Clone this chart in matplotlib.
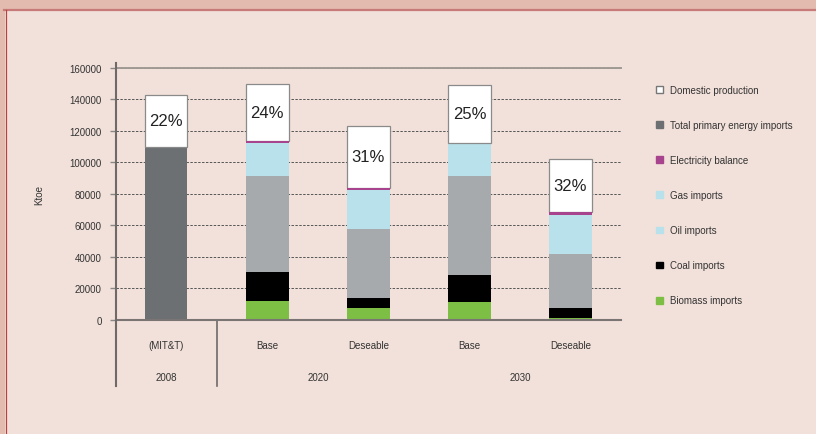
import matplotlib
matplotlib.use('Agg')
import matplotlib.pyplot as plt
from matplotlib.patches import Patch, Rectangle
from matplotlib.lines import Line2D
import matplotlib.transforms as mtransforms

plt.rcParams['font.family'] = ['Liberation Sans Narrow', 'Liberation Sans', 'DejaVu Sans']

# Datos (Ktoe)
categories = ['(MIT&T)', 'Base', 'Deseable', 'Base', 'Deseable']
years = ['2008', '2020', '2030']
year_groups = [[0], [1, 2], [3, 4]]
total_imports = [110000, 0, 0, 0, 0]
biomass = [0, 12000, 7400, 11300, 1100]
coal = [0, 18500, 6400, 17100, 6300]
oil = [0, 61000, 43900, 63000, 34400]
gas = [0, 20600, 24600, 20800, 25100]
electricity = [0, 1300, 1500, 0, 1600]
domestic = [33000, 36300, 39300, 37100, 33800]
shares = ['22%', '24%', '31%', '25%', '32%']

bg = '#F2E1DA'
c_total = '#6D7072'
c_elec = '#A8448E'
c_gas = '#B9E1EB'
c_oil = '#A7AAAC'
c_coal = '#000000'
c_bio = '#7DBF45'

fig = plt.figure(figsize=(8.16, 4.35), dpi=100, facecolor=bg)

# marco decorativo
fig.add_artist(Rectangle((0, 1 - 10/435), 1, 10/435, transform=fig.transFigure,
                         facecolor='#E3BBAF', edgecolor='none'))
fig.add_artist(Rectangle((0, 0), 5/816, 1, transform=fig.transFigure,
                         facecolor='#E3BBAF', edgecolor='none'))
fig.add_artist(Line2D([3.5/816, 1], [1 - 11/435, 1 - 11/435], transform=fig.transFigure,
                      color='#C87A78', lw=1.6))
fig.add_artist(Line2D([5.5/816, 5.5/816], [0, 1 - 11/435], transform=fig.transFigure,
                      color='#B8423F', lw=0.9))

ax = fig.add_axes([115.7/816, 1 - 321/435, (621 - 115.7)/816, (321 - 68.7)/435])
ax.set_facecolor('none')

x = list(range(len(categories)))
w = 0.42

bottom = [0] * len(x)
layers = [(total_imports, c_total), (biomass, c_bio), (coal, c_coal), (oil, c_oil),
          (gas, c_gas)]
for vals, col in layers:
    ax.bar(x, vals, w, bottom=bottom, color=col, edgecolor='none', zorder=3)
    bottom = [b + v for b, v in zip(bottom, vals)]

# balance eléctrico encima del borde de la caja
ax.bar(x, electricity, w, bottom=bottom, color=c_elec, edgecolor='none', zorder=3.5)
bottom = [b + v for b, v in zip(bottom, electricity)]

ax.bar(x, domestic, w, bottom=bottom, color='white', edgecolor='#8A8A8A', linewidth=0.9, zorder=3)
for xi, b, d, s in zip(x, bottom, domestic, shares):
    ax.text(xi, b + d / 2, s, ha='center', va='center', fontsize=12, color='#222222', zorder=4)

ax.set_xlim(-0.5, 4.5)
ax.set_ylim(0, 160000)
ax.set_yticks(range(0, 160001, 20000))
ax.tick_params(axis='y', direction='out', length=4.5, width=1, color='#888888',
               labelsize=7, labelcolor='#333333', pad=5.5)
ax.set_xticks([])

ax.grid(axis='y', color='#555555', linestyle=(0, (2.5, 1.5)), linewidth=0.7, zorder=1)

ax.spines['right'].set_visible(False)
ax.spines['top'].set_color('#A09A95')
ax.spines['top'].set_linewidth(1.4)
ax.spines['bottom'].set_color('#7A7474')
ax.spines['bottom'].set_linewidth(1.5)
ax.spines['bottom'].set_zorder(5)
ax.spines['left'].set_visible(False)

trans = mtransforms.blended_transform_factory(ax.transData, ax.transAxes)
ylow = -(387 - 321) / (321 - 68.7)
ax.plot([-0.5, -0.5], [ylow, 1.02], transform=trans, color='#6F6A68', lw=1.5,
        clip_on=False, zorder=6)
ax.plot([0.5, 0.5], [ylow, 0], transform=trans, color='#6F6A68', lw=1.2, clip_on=False)

y_cat = -(345.7 - 321) / (321 - 68.7)
y_year = -(377.7 - 321) / (321 - 68.7)
for xi, c in zip(x, categories):
    ax.text(xi, y_cat, c, transform=trans, ha='center', va='center', fontsize=7, color='#333333')
for yr, grp in zip(years, year_groups):
    ax.text(sum(grp) / len(grp), y_year, yr, transform=trans, ha='center', va='center',
            fontsize=7, color='#333333')

fig.text(39/816, 1 - 195/435, 'Ktoe', rotation=90, ha='center', va='center',
         fontsize=7, color='#333333')

handles = [Patch(facecolor='white', edgecolor='#777777', linewidth=1, label='Domestic production'),
           Patch(color=c_total, label='Total primary energy imports'),
           Patch(color=c_elec, label='Electricity balance'),
           Patch(color=c_gas, label='Gas imports'),
           Patch(color=c_gas, label='Oil imports'),
           Patch(color=c_coal, label='Coal imports'),
           Patch(color=c_bio, label='Biomass imports')]
fig.legend(handles=handles, loc='upper left', bbox_to_anchor=(656/816, 1 - 86/435),
           frameon=False, fontsize=7, handlelength=0.7, handleheight=0.7,
           handletextpad=0.7, labelspacing=2.58, borderpad=0, borderaxespad=0,
           labelcolor='#333333')

fig.savefig('out.png', dpi=100, facecolor=bg)
